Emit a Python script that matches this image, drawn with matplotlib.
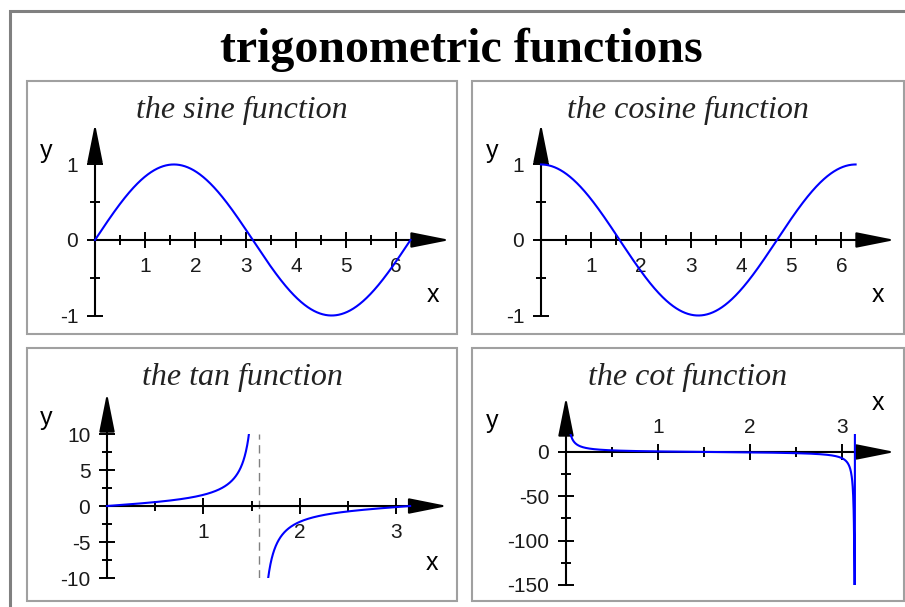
import numpy as np
import matplotlib.pyplot as plt
from matplotlib.patches import Rectangle

W, H = 905, 607

title = 'trigonometric functions'
panel_titles = ['the sine function', 'the cosine function',
                'the tan function', 'the cot function']

# the plotted functions and their x ranges
funcs = [np.sin, np.cos, np.tan, lambda t: 1 / np.tan(t)]
x_ranges = [(0, 2 * np.pi), (0, 2 * np.pi), (0, np.pi), (0.05, np.pi + 0.045)]
y_views = [None, None, (-10, 10), (-150, 20)]

# ticks
xticks = [[1, 2, 3, 4, 5, 6], [1, 2, 3, 4, 5, 6], [1, 2, 3], [1, 2, 3]]
xminor = [[0.5, 1.5, 2.5, 3.5, 4.5, 5.5], [0.5, 1.5, 2.5, 3.5, 4.5, 5.5],
          [0.5, 1.5, 2.5], [0.5, 1.5, 2.5]]
yticks = [[-1, 0, 1], [-1, 0, 1], [-10, -5, 0, 5, 10], [-150, -100, -50, 0]]
yminor = [[-0.5, 0.5], [-0.5, 0.5], [-7.5, -2.5, 2.5, 7.5], [-125, -75, -25]]

# layout in pixels: panel box, data window (left, top, right, bottom), limits
boxes = [(27, 81, 457, 334), (472, 81, 904, 334),
         (27, 348, 457, 601), (472, 348, 904, 601)]
windows = [(95, 123.7, 450, 315.5), (541, 123.7, 895, 315.5),
           (107, 393, 447.6, 578), (566, 397, 895, 585)]
xlims = [(0, 7.07), (0, 7.07), (0, 3.53), (0, 3.576)]
ylims = [(-1, 1.54), (-1, 1.54), (-10, 15.7), (-150, 62)]
ylab_pos = [(46, 158), (492, 158), (46, 425), (492, 428)]
xlab_pos = [(433, 302), (878, 302), (432, 570), (878, 410)]

plt.rcParams['axes.unicode_minus'] = False
plt.rcParams['font.family'] = 'Liberation Sans'

fig = plt.figure(figsize=(W / 100, H / 100), dpi=100)


def fx(px):
    return px / W


def fy(py):
    return 1 - py / H


# outer frame
fig.add_artist(Rectangle((fx(9.5), fy(640)), fx(940), 640 / H - 10.5 / H,
                         transform=fig.transFigure, fill=False,
                         ec='#808080', lw=2.2))
fig.text(fx(461.5), fy(62), title, ha='center', va='baseline',
         family='Liberation Serif', weight='bold', fontsize=34.5)

for i in range(4):
    bx0, by0, bx1, by1 = boxes[i]
    fig.add_artist(Rectangle((fx(bx0), fy(by1)), fx(bx1 - bx0), (by1 - by0) / H,
                             transform=fig.transFigure, fill=False,
                             ec='#a0a0a0', lw=1.5))
    fig.text(fx((bx0 + bx1) / 2), fy(by0 + 37), panel_titles[i],
             ha='center', va='baseline', family='Liberation Serif',
             style='italic', fontsize=23, color='#222222')

    l, t, r, b = windows[i]
    ax = fig.add_axes([fx(l), fy(b), fx(r - l), (b - t) / H])
    ax.set_xlim(*xlims[i])
    ax.set_ylim(*ylims[i])
    ax.patch.set_visible(False)
    for s in ax.spines.values():
        s.set_visible(False)
    ax.spines['left'].set_position(('data', 0))
    ax.spines['bottom'].set_position(('data', 0))
    ax.spines['top'].set_position(('data', 0))

    ax.set_xticks(xticks[i])
    ax.set_xticks(xminor[i], minor=True)
    ax.set_yticks(yticks[i])
    ax.set_yticks(yminor[i], minor=True)
    ax.set_xticklabels([str(v) for v in xticks[i]])
    ax.set_yticklabels([str(v) for v in yticks[i]])
    ax.tick_params(which='major', direction='inout', length=11, width=1.4,
                   labelsize=15, pad=6.5, color='black', labelcolor='#1a1a1a')
    ax.tick_params(which='minor', direction='inout', length=7, width=1.4,
                   color='black')
    if i == 3:
        ax.tick_params(axis='x', which='both', bottom=False, top=True,
                       labelbottom=False, labeltop=True)
        ax.tick_params(axis='x', which='major', pad=5)

    # axes with arrow heads
    arrow = dict(arrowstyle='-|>,head_length=2.4,head_width=0.48', lw=1.5,
                 color='black', shrinkA=0, shrinkB=0, mutation_scale=10)
    ax.annotate('', xy=(xlims[i][1], 0), xytext=(0, 0), arrowprops=arrow,
                annotation_clip=False)
    ax.annotate('', xy=(0, ylims[i][1]), xytext=(0, ylims[i][0]),
                arrowprops=arrow, annotation_clip=False)

    # curve
    x = np.linspace(x_ranges[i][0], x_ranges[i][1], 1201)
    y = funcs[i](x)
    if i == 2:
        y[np.abs(y) > 60] = np.nan
    line, = ax.plot(x, y, color='#0000ff', lw=1.5, zorder=4)
    if y_views[i] is None:
        line.set_clip_on(False)
    else:
        lo, hi = y_views[i]
        clip = Rectangle((-1, lo), 10, hi - lo, transform=ax.transData)
        line.set_clip_path(clip)
    if i == 2:
        ax.vlines(np.pi / 2, -10, 10, colors='#808080', lw=1,
                  linestyles=(0, (6, 4)))

    fig.text(fx(ylab_pos[i][0]), fy(ylab_pos[i][1]), 'y', ha='center',
             va='baseline', fontsize=18)
    fig.text(fx(xlab_pos[i][0]), fy(xlab_pos[i][1]), 'x', ha='center',
             va='baseline', fontsize=18)

fig.savefig('out.png', dpi=100)
